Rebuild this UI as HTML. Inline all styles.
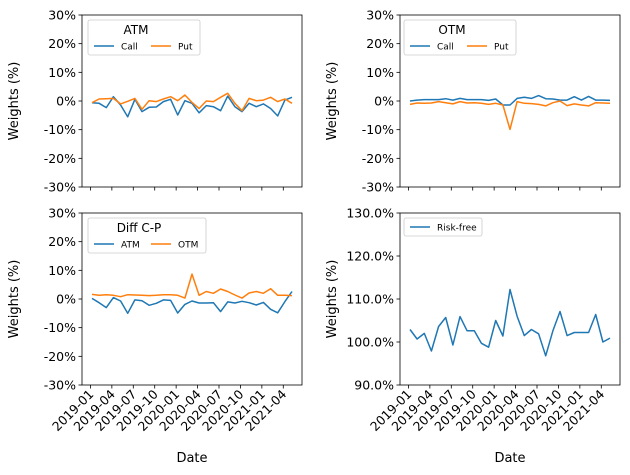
<!DOCTYPE html>
<html><head><meta charset="utf-8"><style>
body{margin:0;background:#fff}
svg{display:block;font-family:"DejaVu Sans","Liberation Sans",sans-serif}
</style></head><body>
<svg id="fig" width="630" height="475" viewBox="0 0 630 475"></svg>
<script>
const months=["2019-01","2019-04","2019-07","2019-10","2020-01","2020-04","2020-07","2020-10","2021-01","2021-04"];
const atmCall=[-0.6,-0.8,-2.3,1.5,-1.4,-5.5,0.6,-3.7,-2.2,-2.1,-0.2,0.6,-4.9,0.1,-0.8,-4.1,-1.6,-2.0,-3.4,1.7,-2.0,-3.7,-0.8,-2.0,-1.0,-2.6,-5.2,0.3,1.3];
const atmPut=[-0.6,0.7,0.8,0.9,-1.0,-0.1,0.9,-2.9,0.1,-0.2,0.7,1.5,0.1,2.1,-0.5,-2.6,0,-0.2,1.3,2.7,-0.8,-3.4,0.9,0.1,0.3,1.3,-0.2,0.7,-0.8];
const otmCall=[0,0.3,0.5,0.5,0.5,0.8,0.3,0.9,0.5,0.5,0.5,0.2,0.7,-1.4,-1.4,0.9,1.3,0.9,1.9,0.8,0.7,0.3,0.3,1.5,0.3,1.6,0.3,0.3,0.2];
const otmPut=[-1.2,-0.7,-0.8,-0.7,-0.2,-0.6,-1.0,-0.2,-0.7,-0.6,-0.8,-1.2,-0.8,-1.4,-9.9,-0.2,-0.8,-0.9,-1.2,-1.7,-0.6,0,-1.6,-1.0,-1.4,-1.7,-0.6,-0.7,-0.8];
const diffAtm=[0.2,-1.3,-3.0,0.5,-0.7,-5.0,-0.3,-0.6,-2.2,-1.5,-0.3,-0.5,-4.9,-1.9,-0.7,-1.4,-1.4,-1.3,-4.4,-1.0,-1.4,-0.8,-1.3,-2.1,-1.2,-3.6,-4.8,-0.9,2.6];
const diffOtm=[1.6,1.3,1.5,1.3,0.8,1.5,1.4,1.3,1.2,1.3,1.5,1.5,1.3,0.3,8.7,1.3,2.6,2.0,3.5,2.6,1.4,0.3,2.1,2.6,2.0,3.6,1.3,1.3,1.2];
const riskFree=[102.9,100.7,102.0,97.9,103.6,105.7,99.3,105.9,102.6,102.6,99.7,98.8,105.0,101.4,112.2,106.0,101.5,102.9,101.9,96.8,102.6,107.1,101.5,102.2,102.2,102.2,106.4,100.0,100.9];
const pctTicks=[30,20,10,0,-10,-20,-30];
const rfTicks=[130,120,110,100,90];

const NS="http://www.w3.org/2000/svg";
const fig=document.getElementById('fig');
function mk(tag,attrs,parent){const e=document.createElementNS(NS,tag);for(const k in attrs)e.setAttribute(k,attrs[k]);(parent||fig).appendChild(e);return e;}
const W=220,H=172;
const panels=[
 {name:'atm',x:82,y:15,lo:-30,hi:30,ticks:pctTicks,fmt:v=>v+'%',series:[atmCall,atmPut],labels:['Call','Put'],title:'ATM',xl:false,leg:[88,20,112,35]},
 {name:'otm',x:400,y:15,lo:-30,hi:30,ticks:pctTicks,fmt:v=>v+'%',series:[otmCall,otmPut],labels:['Call','Put'],title:'OTM',xl:false,leg:[404,20,112,35]},
 {name:'diff',x:82,y:213,lo:-30,hi:30,ticks:pctTicks,fmt:v=>v+'%',series:[diffAtm,diffOtm],labels:['ATM','OTM'],title:'Diff C-P',xl:true,leg:[88,218,118,35]},
 {name:'riskfree',x:400,y:213,lo:90,hi:130,ticks:rfTicks,fmt:v=>v.toFixed(1)+'%',series:[riskFree],labels:['Risk-free'],title:null,xl:true,leg:[404,218,78,18]}
];
const colors=['#1f77b4','#ff7f0e'];
panels.forEach(p=>{
 const g=mk('g',{});
 
 
 const n=p.series[0].length;
 const span=(n-1)*1.1;
 const xs=i=>p.x+W*((i+(n-1)*0.05)/span);
 const ys=v=>p.y+H*(p.hi-v)/(p.hi-p.lo);
 p.series.forEach((s,si)=>{
  const d=s.map((v,i)=>(i?'L':'M')+xs(i).toFixed(1)+' '+ys(v).toFixed(1)).join(' ');
  const pl=mk('path',{d:d,fill:'none',stroke:colors[si],'stroke-width':1.5,'stroke-linejoin':'round'},g);
  
  
 });
 mk('rect',{x:p.x,y:p.y,width:W,height:H,fill:'none',stroke:'#000','stroke-width':0.8},g);
 p.ticks.forEach(t=>{
  const y=ys(t);
  mk('line',{x1:p.x-3.5,x2:p.x,y1:y,y2:y,stroke:'#000','stroke-width':0.8},g);
  const tx=mk('text',{x:p.x-6,y:y+4.5,'text-anchor':'end','font-size':12.5},g);
  tx.textContent=p.fmt(t);
  
  
 });
 months.forEach((m,k)=>{
  const x=xs(-0.22+3*k);
  mk('line',{x1:x,x2:x,y1:p.y+H,y2:p.y+H+3.5,stroke:'#000','stroke-width':0.8},g);
  if(p.xl){
   const tx=mk('text',{x:0,y:0,'text-anchor':'end','font-size':12.5,transform:`translate(${x+4},${p.y+H+10}) rotate(-45)`},g);
   tx.textContent=m;
   
   
  }
 });
 const yl=mk('text',{x:0,y:0,'text-anchor':'middle','font-size':13,transform:`translate(${p.x-64},${p.y+H/2}) rotate(-90)`},g);
 yl.textContent='Weights (%)';
 
 
 if(p.xl){
  const xl=mk('text',{x:p.x+W/2,y:462,'text-anchor':'middle','font-size':13},g);
  xl.textContent='Date';
  
  
 }
 const [lx,ly,lw,lh]=p.leg;
 const lg=mk('g',{},g);
 
 
 mk('rect',{x:lx,y:ly,width:lw,height:lh,rx:2,fill:'#fff','fill-opacity':0.8,stroke:'#ccc','stroke-width':0.8},lg);
 let ey=ly+9;
 if(p.title){
  const tt=mk('text',{x:lx+lw/2-8,y:ly+14,'text-anchor':'middle','font-size':12},lg);
  tt.textContent=p.title;
  
  
  ey=ly+26;
 }
 p.labels.forEach((l,i)=>{
  const ex=lx+6+i*57;
  mk('line',{x1:ex,x2:ex+20,y1:ey,y2:ey,stroke:colors[i],'stroke-width':1.5},lg);
  const t=mk('text',{x:ex+27,y:ey+3.5,'font-size':9},lg);
  t.textContent=l;
  
  
 });
});
</script>
</body></html>
